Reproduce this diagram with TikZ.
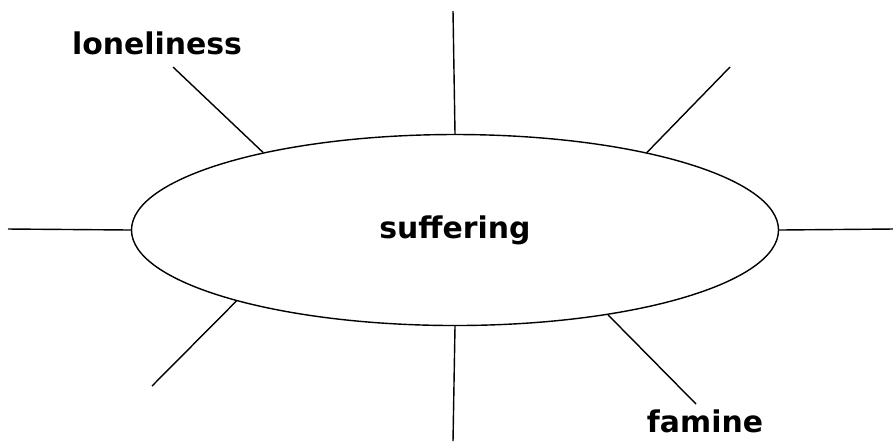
\documentclass[tikz,border=0pt]{standalone}
\usepackage{fontspec}
\setmainfont{DejaVu Sans}
\usepackage{tikz}
\usetikzlibrary{shapes.geometric}

\begin{document}
\begin{tikzpicture}[
      hub/.style={draw, ellipse, inner sep=0pt,
                  minimum width=6.47cm, minimum height=1.91cm,
                  font=\fontsize{8.5}{10}\selectfont\bfseries},
      word/.style={inner sep=0pt, font=\fontsize{8.5}{10}\selectfont\bfseries},
      spoke/.style={line width=0.4pt}
  ]
    \useasboundingbox (0,0) rectangle (8.93,4.46);
    \node[hub] (hub) at (4.55,2.16) {suffering};
    \node[word] (lonely) at (1.57,4.03) {loneliness};
    \node[word] (famine) at (7.05,0.25) {famine};
    % free ends of the spokes
    \coordinate (n)  at (4.53,4.35);
    \coordinate (ne) at (7.30,3.79);
    \coordinate (e)  at (8.93,2.17);
    \coordinate (se) at (6.96,0.42);
    \coordinate (s)  at (4.53,0.05);
    \coordinate (sw) at (1.52,0.60);
    \coordinate (w)  at (0.08,2.17);
    \coordinate (nw) at (1.73,3.79);
    \draw[spoke] (hub.north) -- (n);
    \draw[spoke] (hub.22) -- (ne);
    \draw[spoke] (hub.east) -- (e);
    \draw[spoke] (hub.-29) -- (se);
    \draw[spoke] (hub.south) -- (s);
    \draw[spoke] (hub.198) -- (sw);
    \draw[spoke] (hub.west) -- (w);
    \draw[spoke] (hub.158.5) -- (nw);
  \end{tikzpicture}
\end{document}
